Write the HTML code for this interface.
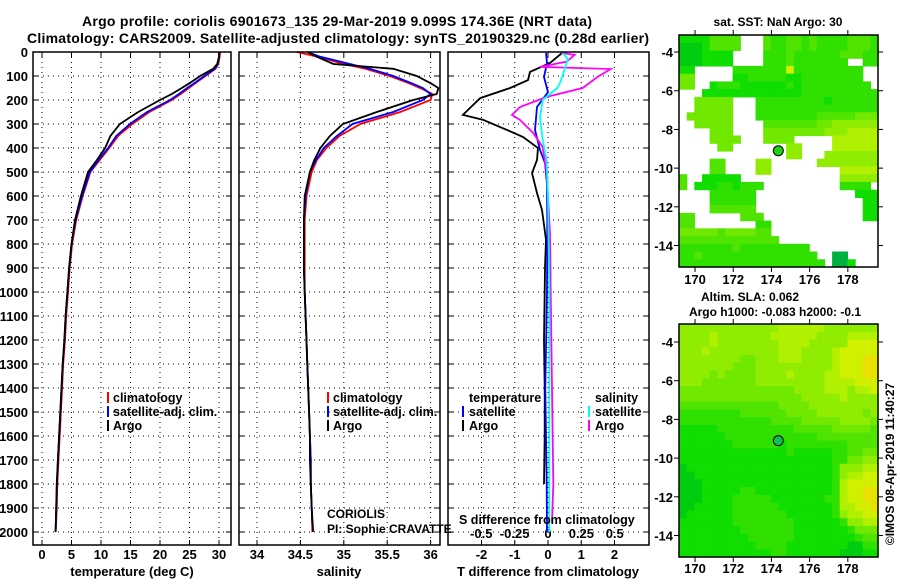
<!DOCTYPE html>
<html><head><meta charset="utf-8"><style>
body{margin:0;background:#fff}
svg text{font-family:"Liberation Sans",sans-serif;font-weight:bold;fill:#000}
</style></head><body>
<svg id="c" xmlns="http://www.w3.org/2000/svg" width="900" height="580" viewBox="0 0 900 580">
<text x="337" y="26" text-anchor="middle" font-size="14" textLength="510">Argo profile: coriolis 6901673_135 29-Mar-2019 9.099S 174.36E (NRT data)</text>
<text x="338" y="43" text-anchor="middle" font-size="14" textLength="622">Climatology: CARS2009. Satellite-adjusted climatology: synTS_20190329.nc (0.28d earlier)</text>
<g id="g"></g>
</svg>
<script>
const depth=[0,20,50,70,100,130,150,175,200,250,300,350,400,450,500,600,700,800,900,1000,1100,1200,1300,1400,1500,1600,1700,1800,1900,2000];
const tempArgo=[30,30,29.7,29.0,26.8,25.0,23.7,22.0,20.0,16.3,13.2,11.6,10.7,9.3,7.8,6.6,5.6,5.0,4.6,4.3,4.0,3.8,3.5,3.3,3.1,2.9,2.7,2.5,2.4,2.3];
const tempSat=[30,30,29.8,29.3,27.5,25.8,24.6,23.2,21.7,17.8,14.9,12.6,11.2,9.6,8.1,6.8,5.7,5.0,4.6,4.3,4.0,3.8,3.5,3.3,3.1,2.9,2.7,2.5,2.4,2.3];
const tempClim=[30.2,30.1,29.9,29.4,27.7,26.0,24.9,23.5,22.0,18.2,15.3,12.9,11.4,9.8,8.2,6.9,5.8,5.1,4.7,4.4,4.1,3.9,3.6,3.4,3.2,3.0,2.8,2.6,2.5,2.3];
const salArgo=[34.58,34.69,34.88,35.57,35.84,36.0,36.09,36.07,35.8,35.38,34.99,34.84,34.73,34.66,34.61,34.55,34.54,34.54,34.54,34.55,34.56,34.57,34.58,34.59,34.6,34.61,34.61,34.62,34.63,34.64];
const salSat=[34.58,34.73,35.07,35.3,35.57,35.78,35.91,36.0,35.91,35.57,35.1,34.92,34.77,34.68,34.61,34.56,34.54,34.54,34.54,34.55,34.56,34.57,34.58,34.59,34.6,34.61,34.62,34.62,34.63,34.64];
const salClim=[34.46,34.7,35.0,35.25,35.53,35.75,35.88,36.02,36.0,35.65,35.19,34.95,34.8,34.69,34.63,34.57,34.55,34.55,34.55,34.55,34.56,34.57,34.58,34.59,34.6,34.61,34.62,34.62,34.63,34.65];
const dTArgoDepth=[4,46,83,117,150,192,262,283,325,354,400,450,504,588,658,783,896,1000,1200,1400,1600,1800];
const dTArgo=[0.42,0.06,-0.54,-0.6,-1.14,-2.04,-2.56,-1.95,-1.23,-0.75,-0.3,-0.33,-0.48,-0.33,-0.18,-0.06,-0.09,-0.1,-0.12,-0.1,-0.1,-0.12];
const dTSatDepth=[4,46,104,167,229,325,408,463,550,700,1000,1400,1800,2000];
const dTSat=[-0.06,-0.03,-0.12,0,-0.33,-0.39,-0.24,-0.09,-0.03,-0.02,-0.03,-0.08,-0.04,-0.03];
const dSArgoDepth=[4,12,40,62,71,104,150,187,229,262,283,338,396,504,600,754,1000,1400,1800,1960];
const dSArgo=[0.1,0.2,0.14,-0.06,0.47,0.37,0.26,-0.01,-0.21,-0.27,-0.21,-0.11,-0.04,-0.01,0,0.015,0.02,0.03,0.04,0.03];
const dSSatDepth=[4,30,129,150,200,271,367,450,600,1000,1500,2000];
const dSSat=[0.11,0.15,0.09,0.07,-0.04,-0.06,-0.04,-0.01,0,0.01,0.01,0.01];
const depthTicks=[0,100,200,300,400,500,600,700,800,900,1000,1100,1200,1300,1400,1500,1600,1700,1800,1900,2000];
const tempTicks=[0,5,10,15,20,25,30];
const salTicks=[34,34.5,35,35.5,36];
const salTickLabels=["34","34.5","35","35.5","36"];
const dTTicks=[-2,-1,0,1,2];
const dSTicks=[-0.5,-0.25,0,0.25,0.5];
const dSTickLabels=["-0.5","-0.25","0","0.25","0.5"];
const lonTicks=[170,172,174,176,178];
const latTicks=[-4,-6,-8,-10,-12,-14];
const argoLon=174.36, argoLat=-9.099;
const palette=["#00b040","#00cc10","#10dd00","#30e000","#50e400","#70e800","#90ec00","#b0f000","#d0f000","#e8e000"];
const sstGrid=[
"22224444...433443433334443",
"11124444...433443433334443",
"1112222....333433333344433",
"1112222....33343333333..33",
"22.....33333338333333333.",
"55.....22333332233333333.",
"55..233322222232333333333.",
"...22222222222223333333333",
"..55555...3333333332333333",
"..55555...3333333333333333",
".555555...3333333344444555",
"..55555....444444455666666",
"....555....555555556667777",
"....5555...5555.....777777",
".....55.......66....777777",
"..............66...6666666",
"....44....66......66666666",
"....44....66.........77777",
"4..22222.............66666",
"4.222332333..........3333",
"....333333.............222",
"....333333..............22",
"....444444..............22",
"44......444.............22",
"44........33..............",
"555554555544..............",
"4444444444444.............",
"33333334333333333.........",
"334333333333333333..00....",
"3333333333333333333.002..."];
const slaGrid=[
"66666666666667777776666666",
"66667666666677777766667777",
"66667666666667777666668888",
"66676666666667776666788888",
"66666666556667776666788899",
"66666665556666666666788899",
"66665655556666766667788899",
"66655555556666666667777888",
"55555555555555566667776778",
"55555555555555556666676666",
"44444444444445555666666666",
"33333333444444555566666656",
"33333333333344445555566665",
"22222333333333344444555554",
"22222233333333333344444444",
"22222223333332333333334444",
"22222222222222322222334455",
"22222222222222222222335566",
"12222222222222222222366677",
"11222222222222222222367788",
"11122222222222222222378888",
"11122222332222222222378899",
"11122223333322222223378899",
"11222223333332222222377889",
"12222223333333222222367788",
"22222223333333322222236677",
"22222222333333322222223555",
"22222222233333322222222344",
"22222222223333222222221133",
"22222222222233222222211122"];
const NS="http://www.w3.org/2000/svg";
const G=document.getElementById('g');
function mk(t,a,p){const e=document.createElementNS(NS,t);for(const k in a)e.setAttribute(k,a[k]);(p||G).appendChild(e);return e;}
function txt(x,y,s,o,p){o=o||{};const e=mk('text',Object.assign({x:x,y:y,'font-size':12},o),p);e.textContent=s;return e;}
const Y0=52,YS=0.24,PB=545;
const yD=d=>Y0+d*YS;
const xT=v=>42+v*5.9, xS=v=>257+(v-34)*86.8, xDT=v=>548+v*33.25, xDS=v=>548+v*133.5;
const panels=[{l:33,r:231,name:'temperature-panel'},{l:239,r:440,name:'salinity-panel'},{l:448,r:649,name:'difference-panel'}];
panels.forEach(p=>{
 const g=mk('g',{});
 
 
 p.g=g;
 depthTicks.forEach(d=>{if(d>0){const l=mk('line',{x1:p.l,x2:p.r,y1:yD(d),y2:yD(d),stroke:'#000','stroke-width':1,'stroke-dasharray':'1,4'},g);}
  mk('line',{x1:p.l,x2:p.l+5,y1:yD(d),y2:yD(d),stroke:'#000'},g);mk('line',{x1:p.r-5,x2:p.r,y1:yD(d),y2:yD(d),stroke:'#000'},g);});
});
depthTicks.forEach(d=>{const t=txt(28,yD(d)+5,String(d),{'text-anchor':'end','font-size':13});});
function vgrid(p,ticks,fx,labels,ly){ticks.forEach((v,i)=>{const x=fx(v);
 const l=mk('line',{x1:x,x2:x,y1:Y0,y2:PB,stroke:'#000','stroke-dasharray':'1,4'},p.g);
 mk('line',{x1:x,x2:x,y1:PB-5,y2:PB,stroke:'#000'},p.g);mk('line',{x1:x,x2:x,y1:Y0,y2:Y0+5,stroke:'#000'},p.g);
 if(labels){const t=txt(x,ly,labels[i],{'text-anchor':'middle','font-size':13},p.g);}});}
vgrid(panels[0],tempTicks,xT,tempTicks.map(String),559);
vgrid(panels[1],salTicks,xS,salTickLabels,559);
vgrid(panels[2],dTTicks,xDT,dTTicks.map(String),559);
dSTicks.forEach((v,i)=>{const t=txt(xDS(v),538,dSTickLabels[i],{'text-anchor':'middle','font-size':13});});
function line(ds,vs,fx,col,name){const pts=ds.map((d,i)=>fx(vs[i]).toFixed(1)+','+yD(d).toFixed(1)).join(' ');
 const e=mk('polyline',{points:pts,fill:'none',stroke:col,'stroke-width':1.8});}
line(depth,tempClim,xT,'#ff0000','temp-climatology-line');
line(depth,tempSat,xT,'#0000ff','temp-satellite-line');
line(depth,tempArgo,xT,'#000','temp-argo-line');
line(depth,salClim,xS,'#ff0000','sal-climatology-line');
line(depth,salSat,xS,'#0000ff','sal-satellite-line');
line(depth,salArgo,xS,'#000','sal-argo-line');
line(dTArgoDepth,dTArgo,xDT,'#000','tdiff-argo-line');
line(dTSatDepth,dTSat,xDT,'#0000ff','tdiff-satellite-line');
line(dSArgoDepth,dSArgo,xDS,'#ff00ff','sdiff-argo-line');
line(dSSatDepth,dSSat,xDS,'#00ffff','sdiff-satellite-line');
panels.forEach(p=>{const r=mk('rect',{x:p.l,y:Y0,width:p.r-p.l,height:PB-Y0,fill:'none',stroke:'#000','stroke-width':1.5});});
[[132,'temperature (deg C)'],[339,'salinity'],[548,'T difference from climatology']].forEach(a=>{const t=txt(a[0],576,a[1],{'text-anchor':'middle','font-size':13});});
function leg(x,y,col,s,tx){const m=mk('rect',{x:x,y:y-10,width:2,height:11,fill:col});const t=txt(tx!==undefined?tx:x+6,y,s,{'font-size':12.5});return t;}
[[107,113],[327,333]].forEach(a=>{leg(a[0],402,'#ff0000','climatology',a[1]);leg(a[0],416,'#0000ff','satellite-adj. clim.',a[1]);leg(a[0],430,'#000','Argo',a[1]);});
{const t=txt(469,402,'temperature',{'font-size':12.5});
const s=txt(595,402,'salinity',{'font-size':12.5});}
leg(462,416,'#0000ff','satellite',469);leg(462,430,'#000','Argo',469);
leg(588,416,'#00ffff','satellite',595);leg(588,430,'#ff00ff','Argo',595);
{const a=txt(327,518,'CORIOLIS',{'font-weight':'normal','font-size':12});
const b=txt(327,533,'PI: Sophie CRAVATTE',{'font-weight':'normal','font-size':12});
const c=txt(459,524,'S difference from climatology',{'font-size':12.5});}
function map(grid,top,bottom,latTop,lonLabelY,name){
 const L=679,R=878,lon0=169.16,lon1=179.58,latBot=latTop-(bottom-top)/19.35;
 const g=mk('g',{});
 const xL=v=>L+(v-lon0)/(lon1-lon0)*(R-L), yL=v=>top+(latTop-v)/(latTop-latBot)*(bottom-top);
 const rows=grid.length,cols=26,cw=(R-L)/cols,ch=(bottom-top)/rows;
 grid.forEach((row,ri)=>{for(let ci=0;ci<cols;ci++){const c=row[ci];if(c===undefined||c==='.')continue;
  const r=mk('rect',{x:(L+ci*cw).toFixed(1),y:(top+ri*ch).toFixed(1),width:(cw+0.6).toFixed(1),height:(ch+0.6).toFixed(1),fill:palette[+c]},g);
  }});
 const d=mk('circle',{cx:xL(argoLon),cy:yL(argoLat),r:5,fill:name==='sla-map'?'#10c050':'#20d010',stroke:'#000','stroke-width':1},g);
 
 mk('rect',{x:L,y:top,width:R-L,height:bottom-top,fill:'none',stroke:'#000','stroke-width':1.5},g);
 lonTicks.forEach(v=>{const x=xL(v);mk('line',{x1:x,x2:x,y1:bottom,y2:bottom+5,stroke:'#000'},g);mk('line',{x1:x,x2:x,y1:top-5,y2:top,stroke:'#000'},g);
  const t=txt(x,lonLabelY,String(v),{'text-anchor':'middle','font-size':13},g);});
 latTicks.forEach(v=>{const y=yL(v);mk('line',{x1:L-5,x2:L,y1:y,y2:y,stroke:'#000'},g);mk('line',{x1:R,x2:R+5,y1:y,y2:y,stroke:'#000'},g);
  const t=txt(673,y+5,String(v),{'text-anchor':'end','font-size':13},g);});
}
map(sstGrid,35,267,-3.12,284,'sst-map');
map(slaGrid,324,557,-3.07,573,'sla-map');
{const a=txt(778,26,'sat. SST: NaN Argo: 30',{'text-anchor':'middle','font-size':12});
const b=txt(750,301,'Altim. SLA: 0.062',{'text-anchor':'middle','font-size':12});
const c=txt(775,316,'Argo h1000: -0.083 h2000: -0.1',{'text-anchor':'middle','font-size':12});
const e=txt(0,0,'©IMOS 08-Apr-2019 11:40:27',{'text-anchor':'middle','font-size':12,'font-weight':'normal',transform:'translate(894,464) rotate(-90)'});}
</script>
</body></html>
